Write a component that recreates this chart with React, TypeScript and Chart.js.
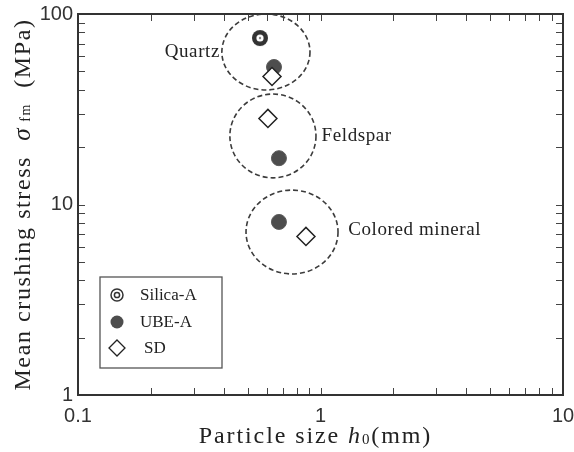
import React, { useEffect, useRef } from "react";
import { Chart, registerables } from "chart.js";

Chart.register(...registerables);

// ---- data ----
const seriesNames = ["Silica-A", "UBE-A", "SD"];
const silicaX = [0.563];
const silicaY = [74.8];
const ubeX = [0.643, 0.674, 0.674];
const ubeY = [52.7, 17.5, 8.1];
const sdX = [0.631, 0.607, 0.871];
const sdY = [47, 28.3, 6.8];

// dashed group outlines (data-space bounds)
const groupNames = ["Quartz", "Feldspar", "Colored mineral"];
const groupXMin = [0.392, 0.423, 0.493];
const groupXMax = [0.905, 0.958, 1.181];
const groupYMin = [39.9, 13.8, 4.32];
const groupYMax = [100, 38.0, 11.9];
const groupLabelX = [0.385, 1.01, 1.3];
const groupLabelY = [63, 22.9, 7.35];

// axes
const xTickValues = [0.1, 0.2, 0.3, 0.4, 0.5, 0.6, 0.7, 0.8, 0.9, 1, 2, 3, 4, 5, 6, 7, 8, 9, 10];
const xTickLabels = ["0.1", "1", "10"];
const yTickValues = [1, 2, 3, 4, 5, 6, 7, 8, 9, 10, 20, 30, 40, 50, 60, 70, 80, 90, 100];
const yTickLabels = ["1", "10", "100"];

const SERIF = "'Liberation Serif', 'Times New Roman', serif";
const SANS = "'Liberation Sans', Arial, sans-serif";

const labelAlign: CanvasTextAlign[] = ["right", "left", "left"];

function makeSilicaMarker(): HTMLCanvasElement {
  const c = document.createElement("canvas");
  c.width = 18;
  c.height = 18;
  const g = c.getContext("2d")!;
  g.fillStyle = "#333";
  g.beginPath();
  g.arc(9, 9, 8, 0, Math.PI * 2);
  g.fill();
  g.fillStyle = "#ffffff";
  g.beginPath();
  g.arc(9, 9, 3.6, 0, Math.PI * 2);
  g.fill();
  g.fillStyle = "#888";
  g.beginPath();
  g.arc(9, 9, 1.2, 0, Math.PI * 2);
  g.fill();
  return c;
}

function labelFor(value: number, labels: string[]): string {
  for (const l of labels) {
    const v = parseFloat(l);
    if (Math.abs(v - value) / v < 1e-6) return l;
  }
  return "";
}

function setSpacing(ctx: CanvasRenderingContext2D, px: number) {
  const anyCtx = ctx as any;
  if ("letterSpacing" in anyCtx) anyCtx.letterSpacing = px + "px";
}

type Seg = { t: string; font: string; dy: number };

function drawSegs(ctx: CanvasRenderingContext2D, segs: Seg[], cx: number, baseY: number, spacing: number) {
  setSpacing(ctx, spacing);
  let total = 0;
  const widths = segs.map((s) => {
    ctx.font = s.font;
    const w = ctx.measureText(s.t).width;
    total += w;
    return w;
  });
  let x = cx - total / 2;
  ctx.textAlign = "left";
  ctx.textBaseline = "alphabetic";
  segs.forEach((s, i) => {
    ctx.font = s.font;
    ctx.fillText(s.t, x, baseY + s.dy);
    x += widths[i];
  });
  setSpacing(ctx, 0);
}

const framePlugin = {
  id: "frame",
  beforeDatasetsDraw(chart: any) {
    const { ctx, scales } = chart;
    const xs = scales.x;
    const ys = scales.y;
    ctx.save();
    // dashed group outlines
    ctx.strokeStyle = "#3c3c3c";
    ctx.lineWidth = 1.6;
    ctx.setLineDash([5, 3]);
    for (let i = 0; i < groupNames.length; i++) {
      const x0 = xs.getPixelForValue(groupXMin[i]);
      const x1 = xs.getPixelForValue(groupXMax[i]);
      const y0 = ys.getPixelForValue(groupYMax[i]);
      const y1 = ys.getPixelForValue(groupYMin[i]);
      ctx.beginPath();
      ctx.ellipse((x0 + x1) / 2, (y0 + y1) / 2, (x1 - x0) / 2, (y1 - y0) / 2, 0, 0, Math.PI * 2);
      ctx.stroke();
    }
    ctx.setLineDash([]);
    // group labels
    ctx.fillStyle = "#222";
    ctx.font = `19px ${SERIF}`;
    ctx.textBaseline = "middle";
    setSpacing(ctx, 0.6);
    for (let i = 0; i < groupNames.length; i++) {
      ctx.textAlign = labelAlign[i];
      ctx.fillText(groupNames[i], xs.getPixelForValue(groupLabelX[i]), ys.getPixelForValue(groupLabelY[i]));
    }
    setSpacing(ctx, 0);
    ctx.restore();
  },
  afterDraw(chart: any) {
    const { ctx, chartArea: a, scales } = chart;
    const xs = scales.x;
    const ys = scales.y;
    ctx.save();
    // inward ticks on all four sides
    const tl = 7;
    ctx.strokeStyle = "#444";
    ctx.lineWidth = 1;
    ctx.beginPath();
    xs.ticks.forEach((t: any) => {
      const px = Math.round(xs.getPixelForValue(t.value)) + 0.5;
      ctx.moveTo(px, a.bottom);
      ctx.lineTo(px, a.bottom - tl);
      ctx.moveTo(px, a.top);
      ctx.lineTo(px, a.top + tl);
    });
    ys.ticks.forEach((t: any) => {
      const py = Math.round(ys.getPixelForValue(t.value)) + 0.5;
      ctx.moveTo(a.left, py);
      ctx.lineTo(a.left + tl, py);
      ctx.moveTo(a.right, py);
      ctx.lineTo(a.right - tl, py);
    });
    ctx.stroke();
    // frame
    ctx.strokeStyle = "#333";
    ctx.lineWidth = 2;
    ctx.strokeRect(a.left, a.top, a.right - a.left, a.bottom - a.top);

    // legend box
    const lx = a.left + 22;
    const ly = a.top + 263;
    ctx.strokeStyle = "#555";
    ctx.lineWidth = 1.3;
    ctx.strokeRect(lx, ly, 122, 91);
    const rows = [18, 45, 71];
    const mx = lx + 17;
    ctx.font = `17px ${SERIF}`;
    ctx.fillStyle = "#222";
    ctx.textAlign = "left";
    ctx.textBaseline = "middle";
    seriesNames.forEach((name, i) => {
      const my = ly + rows[i];
      if (i === 0) {
        ctx.strokeStyle = "#333";
        ctx.lineWidth = 1.5;
        ctx.beginPath();
        ctx.arc(mx, my, 6, 0, Math.PI * 2);
        ctx.stroke();
        ctx.beginPath();
        ctx.arc(mx, my, 2.6, 0, Math.PI * 2);
        ctx.stroke();
      } else if (i === 1) {
        ctx.fillStyle = "#4d4d4d";
        ctx.beginPath();
        ctx.arc(mx, my, 6.5, 0, Math.PI * 2);
        ctx.fill();
      } else {
        ctx.strokeStyle = "#222";
        ctx.lineWidth = 1.3;
        ctx.fillStyle = "#fff";
        ctx.beginPath();
        ctx.moveTo(mx, my - 8);
        ctx.lineTo(mx + 8, my);
        ctx.lineTo(mx, my + 8);
        ctx.lineTo(mx - 8, my);
        ctx.closePath();
        ctx.fill();
        ctx.stroke();
      }
      ctx.fillStyle = "#222";
      ctx.fillText(name, lx + (i === 2 ? 44 : 40), my + 1);
    });

    // x title
    ctx.fillStyle = "#222";
    const cx = (a.left + a.right) / 2 - 5;
    drawSegs(
      ctx,
      [
        { t: "Particle size ", font: `24px ${SERIF}`, dy: 0 },
        { t: "h", font: `italic 24px ${SERIF}`, dy: 0 },
        { t: "0", font: `15px ${SERIF}`, dy: 1 },
        { t: "(mm)", font: `24px ${SERIF}`, dy: 0 },
      ],
      cx,
      443,
      1.9
    );

    // y title (rotated)
    ctx.save();
    ctx.translate(30, (a.top + a.bottom) / 2);
    ctx.rotate(-Math.PI / 2);
    drawSegs(
      ctx,
      [
        { t: "Mean crushing stress  ", font: `24px ${SERIF}`, dy: 0 },
        { t: "σ", font: `italic 25px ${SERIF}`, dy: 0 },
        { t: " fm", font: `14px ${SERIF}`, dy: 0 },
        { t: "  (MPa)", font: `24px ${SERIF}`, dy: 0 },
      ],
      0,
      0,
      1.6
    );
    ctx.restore();
    ctx.restore();
  },
};

export default function App() {
  const ref = useRef<HTMLCanvasElement | null>(null);
  useEffect(() => {
    if (!ref.current) return;
    const silicaImg = makeSilicaMarker();
    const chart = new Chart(ref.current, {
      type: "scatter",
      data: {
        datasets: [
          {
            label: seriesNames[0],
            data: silicaX.map((x, i) => ({ x, y: silicaY[i] })),
            pointStyle: silicaImg as any,
            pointRadius: 8,
            order: 2,
          },
          {
            label: seriesNames[1],
            data: ubeX.map((x, i) => ({ x, y: ubeY[i] })),
            pointStyle: "circle",
            pointRadius: 7.5,
            backgroundColor: "#4d4d4d",
            borderColor: "#5a5a5a",
            borderWidth: 1,
            order: 1,
          },
          {
            label: seriesNames[2],
            data: sdX.map((x, i) => ({ x, y: sdY[i] })),
            pointStyle: "rectRot",
            pointRadius: 9,
            backgroundColor: "#ffffff",
            borderColor: "#222",
            borderWidth: 1.5,
            order: 0,
          },
        ],
      },
      options: {
        responsive: false,
        animation: false,
        devicePixelRatio: 1,
        layout: { padding: { top: 14, right: 11, left: 0, bottom: 0 } },
        plugins: { legend: { display: false }, tooltip: { enabled: false } },
        scales: {
          x: {
            type: "logarithmic",
            min: 0.1,
            max: 10,
            grid: { display: false, drawTicks: false },
            border: { display: false },
            afterBuildTicks: (s: any) => {
              s.ticks = xTickValues.map((v) => ({ value: v }));
            },
            afterFit: (s: any) => {
              s.height = 57;
              s.paddingLeft = 0;
              s.paddingRight = 0;
            },
            ticks: {
              autoSkip: false,
              maxRotation: 0,
              padding: 9,
              color: "#333",
              font: { family: SANS, size: 20 },
              callback: (v: any) => labelFor(Number(v), xTickLabels),
            },
          },
          y: {
            type: "logarithmic",
            min: 1,
            max: 100,
            grid: { display: false, drawTicks: false },
            border: { display: false },
            afterBuildTicks: (s: any) => {
              s.ticks = yTickValues.map((v) => ({ value: v }));
            },
            afterFit: (s: any) => {
              s.width = 78;
              s.paddingTop = 0;
              s.paddingBottom = 0;
            },
            ticks: {
              autoSkip: false,
              padding: 5,
              color: "#333",
              font: { family: SANS, size: 20 },
              callback: (v: any) => labelFor(Number(v), yTickLabels),
            },
          },
        },
      },
      plugins: [framePlugin],
    });
    return () => chart.destroy();
  }, []);
  return (
    <div style={{ position: "fixed", left: 0, top: 0, width: 574, height: 452, background: "#fff" }}>
      <canvas ref={ref} width={574} height={452} style={{ display: "block" }} />
    </div>
  );
}
